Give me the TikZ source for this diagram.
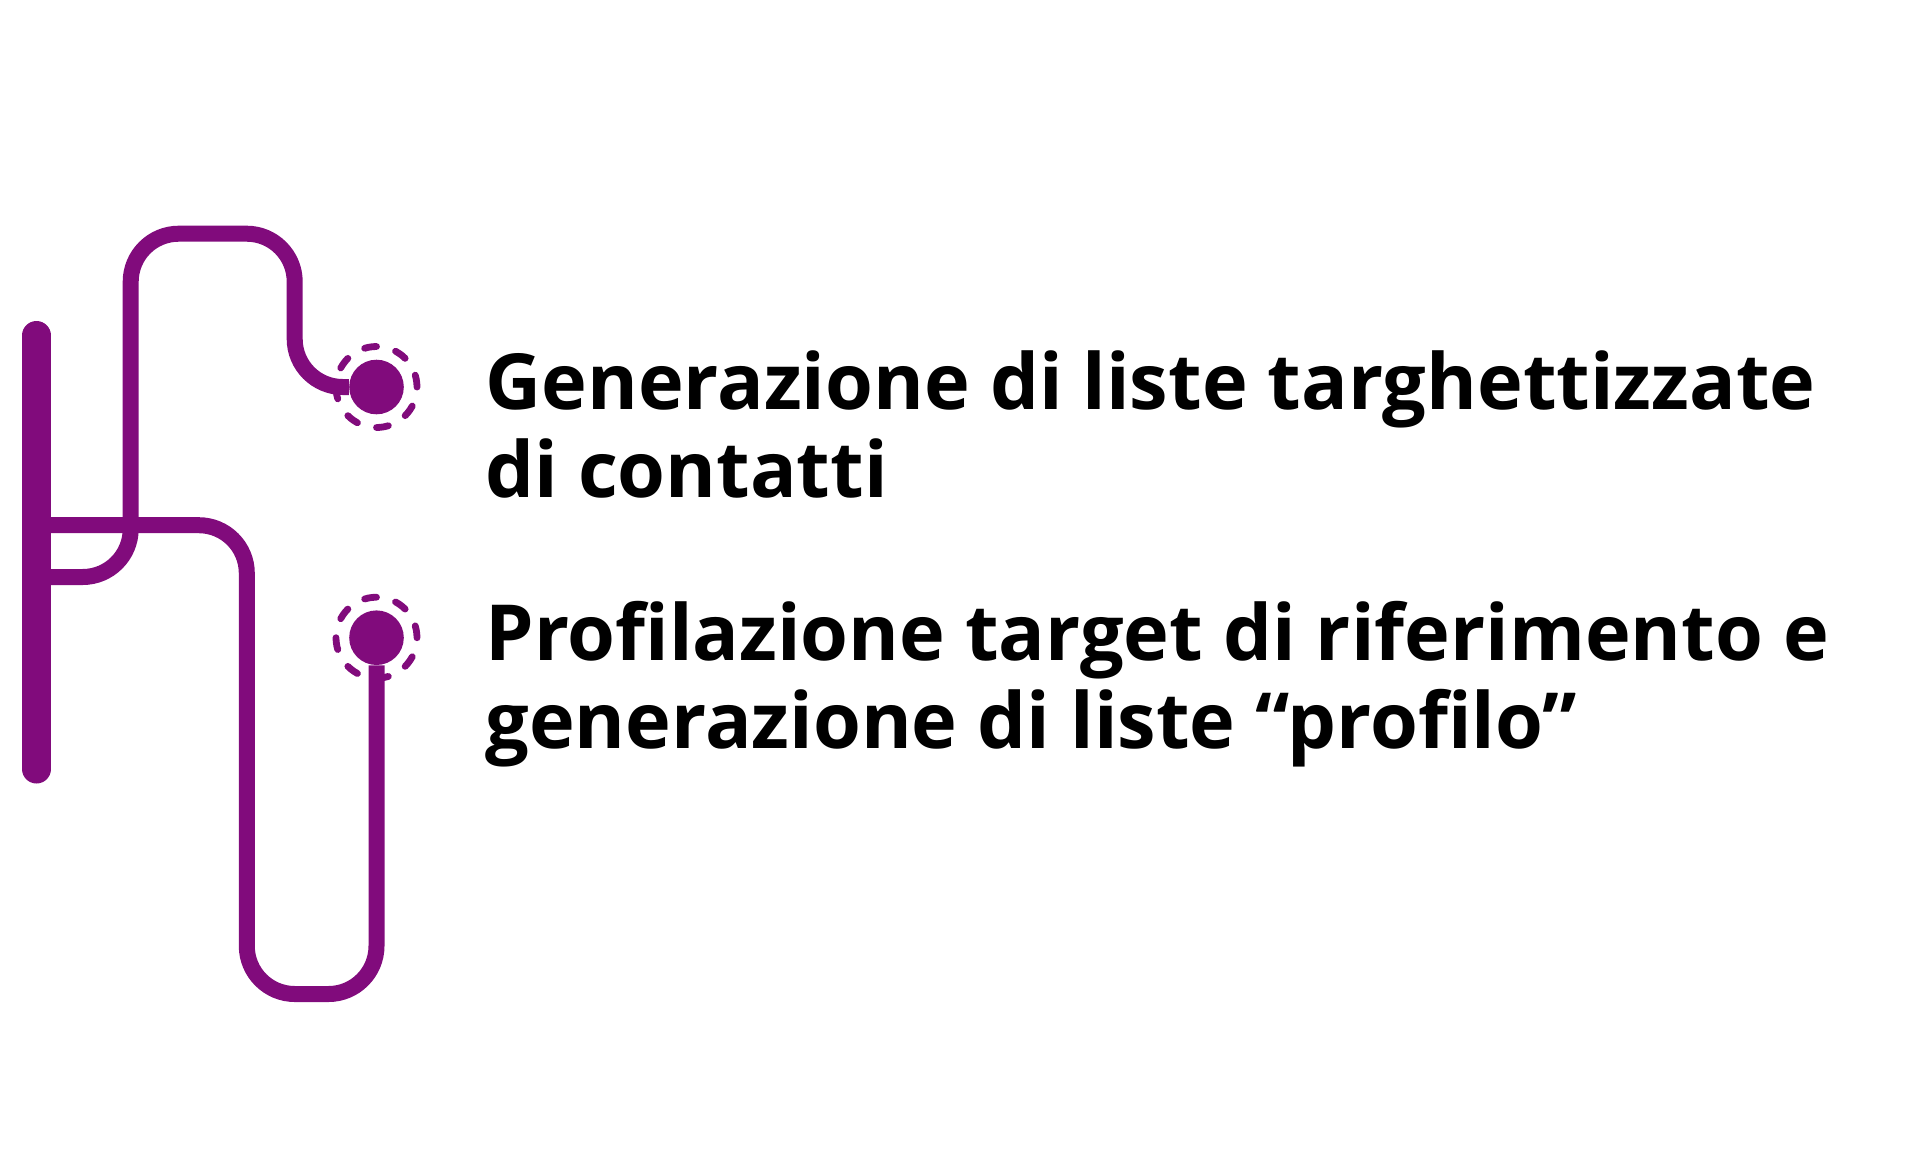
\documentclass[tikz,border=0pt]{standalone}
\usepackage{fontspec}
\setmainfont{Open Sans}[Ligatures={TeX,NoCommon}]
\definecolor{plum}{RGB}{129,11,124}

\begin{document}
\begin{tikzpicture}[x=0.5pt, y=-0.5pt,
	wire/.style={line width=8pt, color=plum, rounded corners=24pt},
	bar/.style={line width=14.5pt, color=plum, line cap=round},
	dot/.style={circle, fill=plum, minimum size=27.3pt, inner sep=0pt},
	ring/.style={circle, draw=plum, line width=3.4pt, minimum size=40.5pt, inner sep=0pt,
		dash pattern=on 6pt off 9.9pt, line cap=round},
	itemtext/.style={font=\bfseries\fontsize{38.7}{44}\selectfont, align=left, inner sep=0pt, anchor=base west}]
			%%%%% START %%%%%
			\useasboundingbox (0, 0) rectangle (1921, 1152);
			
			\coordinate (barTop) at (36.5, 335.5);
			\coordinate (barBot) at (36.5, 769);
			\coordinate (tapA) at (36.5, 577);
			\coordinate (tapB) at (36.5, 525.2);
			
			\node[dot] (dotA) at (376.5, 387) {};
			\node[ring] (ringA) at (dotA) {};
			\node[dot] (dotB) at (376.5, 637.7) {};
			\node[ring] (ringB) at (dotB) {};
			
			\draw[wire] (tapA) -- (130.7, 577) -- (130.7, 233.7) -- (294.7, 233.7) -- (294.7, 387) -- (dotA.west);
			\draw[wire] (tapB) -- (246.8, 525.2) -- (246.8, 994) -- (376.5, 994) -- (dotB.south);
			
			\draw[bar] (barTop) -- (barBot);
			
			% second line baseline sets the anchor
			\node[itemtext] (itemA) at (485, 497) {Generazione di liste targhettizzate\\di contatti};
			\node[itemtext] (itemB) at (485, 748) {Profilazione target di riferimento e\\generazione di liste “profilo”};
			
			%%%%% END %%%%%
\end{tikzpicture}
\end{document}
